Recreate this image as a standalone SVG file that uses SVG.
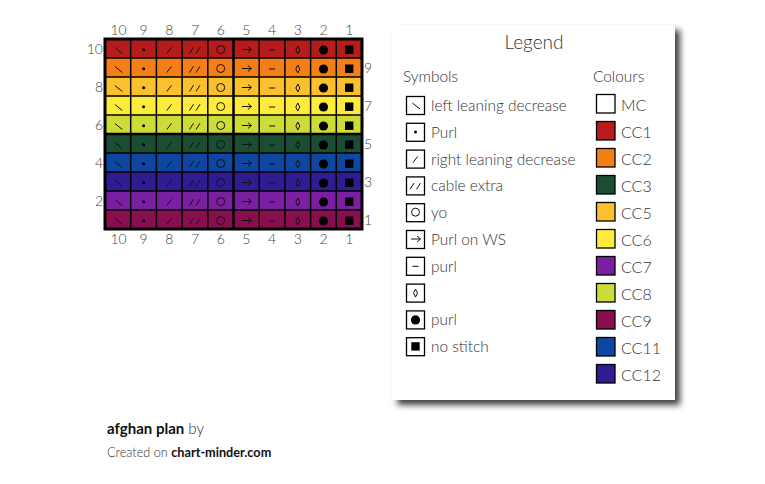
<svg xmlns="http://www.w3.org/2000/svg" xmlns:xlink="http://www.w3.org/1999/xlink" width="765" height="484" viewBox="0 0 765 484">
<style>
text{font-family:Lato,"Liberation Sans",sans-serif;font-weight:300;fill:#444}
.num{font-size:14px;fill:#555}
.lg{font-size:15.4px;fill:#333}
.cl{font-size:16px;fill:#333}
.b{font-weight:700;fill:#111}
.sym{stroke:#111;stroke-width:1;fill:none}
.fill{fill:#000;stroke:none}
.grid{stroke:#000;stroke-width:1.5;fill:none}
.thick{stroke:#000;stroke-width:2.5;fill:none}
.box{fill:none;stroke:#000;stroke-width:1.3}
</style>
<defs>
<filter id="sh" x="-10%" y="-10%" width="130%" height="130%">
<feDropShadow dx="5" dy="5" stdDeviation="3" flood-color="#000" flood-opacity="0.75"/>
</filter>
<g id="sLeft"><line class="sym" x1="-3" y1="-1" x2="4.5" y2="5"/></g>
<g id="sDot"><circle class="fill" cx="0" cy="1.2" r="1.5"/></g>
<g id="sRight"><line class="sym" x1="-2.5" y1="5" x2="2.2" y2="-1.2"/></g>
<g id="sDouble"><line class="sym" x1="-5.5" y1="5" x2="-1.5" y2="-1.3"/><line class="sym" x1="1" y1="5" x2="5" y2="-1.3"/></g>
<g id="sCircle"><ellipse class="sym" cx="0" cy="1" rx="4" ry="4"/></g>
<g id="sArrow"><line class="sym" x1="-4.5" y1="1" x2="5" y2="1"/><polyline class="sym" points="1.5,-2 5,1 1.5,4"/></g>
<g id="sDash"><line class="sym" x1="-3" y1="1.5" x2="3" y2="1.5"/></g>
<g id="sDiamond"><polygon class="sym" points="0,-2.5 2,1.5 0,5.5 -2,1.5"/></g>
<g id="sFCircle"><circle class="fill" cx="0" cy="1.5" r="4.6"/></g>
<g id="sFSquare"><rect class="fill" x="-4.2" y="-3" width="8.4" height="8.4"/></g>
<g id="rowSyms">
<use xlink:href="#sLeft" x="117.9"/>
<use xlink:href="#sDot" x="143.6"/>
<use xlink:href="#sRight" x="169.3"/>
<use xlink:href="#sDouble" x="195"/>
<use xlink:href="#sCircle" x="220.7"/>
<use xlink:href="#sArrow" x="246.4"/>
<use xlink:href="#sDash" x="272.1"/>
<use xlink:href="#sDiamond" x="297.8"/>
<use xlink:href="#sFCircle" x="323.5"/>
<use xlink:href="#sFSquare" x="349.2"/>
</g>
</defs>
<rect width="765" height="484" fill="#fff"/>

<g id="chart">
<rect x="105" y="39" width="257" height="19" fill="#B71C1C"/>
<rect x="105" y="58" width="257" height="19" fill="#F57F17"/>
<rect x="105" y="77" width="257" height="19" fill="#FBC02D"/>
<rect x="105" y="96" width="257" height="19" fill="#FFEB3B"/>
<rect x="105" y="115" width="257" height="19" fill="#CDDC39"/>
<rect x="105" y="134" width="257" height="19" fill="#1B4D32"/>
<rect x="105" y="153" width="257" height="19" fill="#0D47A1"/>
<rect x="105" y="172" width="257" height="19" fill="#311B92"/>
<rect x="105" y="191" width="257" height="19" fill="#7B1FA2"/>
<rect x="105" y="210" width="257" height="19" fill="#880E4F"/>
<use xlink:href="#rowSyms" y="48.5"/>
<use xlink:href="#rowSyms" y="67.5"/>
<use xlink:href="#rowSyms" y="86.5"/>
<use xlink:href="#rowSyms" y="105.5"/>
<use xlink:href="#rowSyms" y="124.5"/>
<use xlink:href="#rowSyms" y="143.5"/>
<use xlink:href="#rowSyms" y="162.5"/>
<use xlink:href="#rowSyms" y="181.5"/>
<use xlink:href="#rowSyms" y="200.5"/>
<use xlink:href="#rowSyms" y="219.5"/>
<path class="grid" d="M130.7 39V229M156.4 39V229M182.1 39V229M207.8 39V229M259.2 39V229M284.9 39V229M310.6 39V229M336.3 39V229M105 58H362M105 77H362M105 96H362M105 115H362M105 153H362M105 172H362M105 191H362M105 210H362"/>
<path class="thick" d="M233.5 39V229M105 134H362"/>
<rect x="105" y="39" width="257" height="190" fill="none" stroke="#000" stroke-width="3"/>
<g class="num" text-anchor="middle">
<text x="118.5" y="35">10</text><text x="143.6" y="35">9</text><text x="169.3" y="35">8</text><text x="195" y="35">7</text><text x="220.7" y="35">6</text><text x="246.4" y="35">5</text><text x="272.1" y="35">4</text><text x="297.8" y="35">3</text><text x="323.5" y="35">2</text><text x="349.2" y="35">1</text>
<text x="118.5" y="243.5">10</text><text x="143.6" y="243.5">9</text><text x="169.3" y="243.5">8</text><text x="195" y="243.5">7</text><text x="220.7" y="243.5">6</text><text x="246.4" y="243.5">5</text><text x="272.1" y="243.5">4</text><text x="297.8" y="243.5">3</text><text x="323.5" y="243.5">2</text><text x="349.2" y="243.5">1</text>
</g>
<g class="num" text-anchor="end">
<text x="103" y="53.5">10</text><text x="103" y="91.5">8</text><text x="103" y="129.5">6</text><text x="103" y="167.5">4</text><text x="103" y="205.5">2</text>
</g>
<g class="num">
<text x="364" y="72.5">9</text><text x="364" y="110.5">7</text><text x="364" y="148.5">5</text><text x="364" y="186.5">3</text><text x="364" y="224.5">1</text>
</g>
</g>

<g id="legend">
<rect x="392.5" y="25" width="282.5" height="375" fill="#fff" filter="url(#sh)"/>
<text x="534" y="49" text-anchor="middle" style="font-size:19px;fill:#333">Legend</text>
<text class="lg" x="403" y="82">Symbols</text>
<text class="lg" x="593" y="82">Colours</text>
<g id="legend-symbols">
<rect class="box" x="406.5" y="96.5" width="18" height="18"/><use xlink:href="#sLeft" x="415.5" y="104"/><text class="lg" x="431" y="111">left leaning decrease</text>
<rect class="box" x="406.5" y="123.3" width="18" height="18"/><use xlink:href="#sDot" x="415.5" y="130.8"/><text class="lg" x="431" y="137.8">Purl</text>
<rect class="box" x="406.5" y="150.1" width="18" height="18"/><use xlink:href="#sRight" x="415.5" y="157.6"/><text class="lg" x="431" y="164.6">right leaning decrease</text>
<rect class="box" x="406.5" y="176.9" width="18" height="18"/><use xlink:href="#sDouble" x="415.5" y="184.4"/><text class="lg" x="431" y="191.4">cable extra</text>
<rect class="box" x="406.5" y="203.7" width="18" height="18"/><use xlink:href="#sCircle" x="415.5" y="211.2"/><text class="lg" x="431" y="218.2">yo</text>
<rect class="box" x="406.5" y="230.5" width="18" height="18"/><use xlink:href="#sArrow" x="415.5" y="238"/><text class="lg" x="431" y="245">Purl on WS</text>
<rect class="box" x="406.5" y="257.3" width="18" height="18"/><use xlink:href="#sDash" x="415.5" y="264.8"/><text class="lg" x="431" y="271.8">purl</text>
<rect class="box" x="406.5" y="284.1" width="18" height="18"/><use xlink:href="#sDiamond" x="415.5" y="291.6"/>
<rect class="box" x="406.5" y="310.9" width="18" height="18"/><use xlink:href="#sFCircle" x="415.5" y="318.4"/><text class="lg" x="431" y="325.4">purl</text>
<rect class="box" x="406.5" y="337.7" width="18" height="18"/><use xlink:href="#sFSquare" x="415.5" y="345.2"/><text class="lg" x="431" y="352.2">no stitch</text>
</g>
<g id="legend-colours" stroke="#000" stroke-width="1.3">
<rect x="596.5" y="94.5" width="18.5" height="18.5" fill="#fff"/>
<rect x="596.5" y="121.5" width="18.5" height="18.5" fill="#B71C1C"/>
<rect x="596.5" y="148.5" width="18.5" height="18.5" fill="#F57F17"/>
<rect x="596.5" y="175.5" width="18.5" height="18.5" fill="#1B4D32"/>
<rect x="596.5" y="202.5" width="18.5" height="18.5" fill="#FBC02D"/>
<rect x="596.5" y="229.5" width="18.5" height="18.5" fill="#FFEB3B"/>
<rect x="596.5" y="256.5" width="18.5" height="18.5" fill="#7B1FA2"/>
<rect x="596.5" y="283.5" width="18.5" height="18.5" fill="#CDDC39"/>
<rect x="596.5" y="310.5" width="18.5" height="18.5" fill="#880E4F"/>
<rect x="596.5" y="337.5" width="18.5" height="18.5" fill="#0D47A1"/>
<rect x="596.5" y="364.5" width="18.5" height="18.5" fill="#311B92"/>
</g>
<g>
<text class="cl" x="621" y="110.5">MC</text>
<text class="cl" x="621" y="137.5">CC1</text>
<text class="cl" x="621" y="164.5">CC2</text>
<text class="cl" x="621" y="191.5">CC3</text>
<text class="cl" x="621" y="218.5">CC5</text>
<text class="cl" x="621" y="245.5">CC6</text>
<text class="cl" x="621" y="272.5">CC7</text>
<text class="cl" x="621" y="299.5">CC8</text>
<text class="cl" x="621" y="326.5">CC9</text>
<text class="cl" x="621" y="353.5">CC11</text>
<text class="cl" x="621" y="380.5">CC12</text>
</g>
</g>

<g id="footer">
<text x="107" y="434" style="font-size:15px;fill:#222"><tspan class="b">afghan plan</tspan> by</text>
<text x="107" y="457" style="font-size:12.7px;fill:#333">Created on <tspan class="b">chart-minder.com</tspan></text>
</g>
</svg>
